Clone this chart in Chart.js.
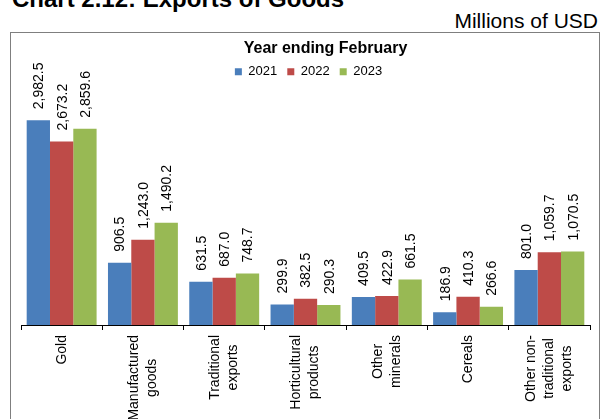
<!DOCTYPE html>
<html>
<head>
<meta charset="utf-8">
<script src="https://cdn.jsdelivr.net/npm/chart.js@4.4.1/dist/chart.umd.min.js"></script>
<style>
    body {
        margin: 0;
        width: 602px;
        height: 419px;
        overflow: hidden;
        background: #fff;
        font-family: 'Liberation Sans', Arial, sans-serif;
        position: relative;
    }
    #heading {
        position: absolute;
        left: 12px;
        top: -13px;
        font-size: 24px;
        line-height: 24px;
        font-weight: bold;
        white-space: nowrap;
    }
    #units {
        position: absolute;
        right: 4px;
        top: 10px;
        font-size: 21px;
        line-height: 21px;
        white-space: nowrap;
    }
    #frame {
        position: absolute;
        left: 10px;
        top: 32px;
        width: 588px;
        height: 420px;
        border: 1px solid #7f7f7f;
    }
</style>
</head>
<body>
<div id="heading">Chart 2.12: Exports of Goods</div>
<div id="units">Millions of USD</div>
<div id="frame"><canvas id="exportsChart" width="588" height="420"></canvas></div>

<script>
const categories = [
    ['Gold'],
    ['Manufactured', 'goods'],
    ['Traditional', 'exports'],
    ['Horticultural', 'products'],
    ['Other', 'minerals'],
    ['Cereals'],
    ['Other non-', 'traditional', 'exports']
];
const years = ['2021', '2022', '2023'];
const values2021 = [2982.5, 906.5, 631.5, 299.9, 409.5, 186.9, 801.0];
const values2022 = [2673.2, 1243.0, 687.0, 382.5, 422.9, 410.3, 1059.7];
const values2023 = [2859.6, 1490.2, 748.7, 290.3, 661.5, 266.6, 1070.5];

const FONT = "'Liberation Sans', Arial, sans-serif";
Chart.defaults.font.family = FONT;
Chart.defaults.color = '#000';

// numbers above each bar, written bottom-to-top
const barValueLabels = {
    id: 'barValueLabels',
    afterDatasetsDraw(chart) {
        const ctx = chart.ctx;
        ctx.save();
        ctx.font = '14px ' + FONT;
        ctx.fillStyle = '#000';
        ctx.textAlign = 'left';
        ctx.textBaseline = 'middle';
        chart.data.datasets.forEach((ds, i) => {
            chart.getDatasetMeta(i).data.forEach((bar, j) => {
                const text = ds.data[j].toLocaleString('en-US', {minimumFractionDigits: 1, maximumFractionDigits: 1});
                ctx.save();
                ctx.translate(bar.x, bar.y - 11);
                ctx.rotate(-Math.PI / 2);
                ctx.fillText(text, 0, 1);
                ctx.restore();
            });
        });
        ctx.restore();
    }
};

// category names under the axis, rotated, lines centred on each other
const categoryLabels = {
    id: 'categoryLabels',
    afterDraw(chart) {
        const ctx = chart.ctx;
        const xScale = chart.scales.x;
        const top = chart.chartArea.bottom + 10;
        const lineHeight = 18;
        ctx.save();
        ctx.font = '14px ' + FONT;
        ctx.fillStyle = '#000';
        ctx.textAlign = 'center';
        ctx.textBaseline = 'middle';
        categories.forEach((lines, i) => {
            const x = xScale.getPixelForValue(i);
            const longest = Math.max(...lines.map(l => ctx.measureText(l).width));
            lines.forEach((line, k) => {
                const offset = (k - (lines.length - 1) / 2) * lineHeight;
                ctx.save();
                ctx.translate(x + offset, top + longest / 2);
                ctx.rotate(-Math.PI / 2);
                ctx.fillText(line, 0, 0);
                ctx.restore();
            });
        });
        ctx.restore();
    }
};

// nudge the title and legend to the right
const headerShift = {
    id: 'headerShift',
    afterLayout(chart) {
        chart.titleBlock.left += 20;
        chart.titleBlock.right += 20;
        chart.legend.left += 3;
        chart.legend.right += 3;
    }
};

const ctx = document.getElementById('exportsChart').getContext('2d');
new Chart(ctx, {
    type: 'bar',
    data: {
        labels: categories,
        datasets: [
            {
                label: years[0],
                data: values2021,
                backgroundColor: '#4a7ebb'
            },
            {
                label: years[1],
                data: values2022,
                backgroundColor: '#be4b48'
            },
            {
                label: years[2],
                data: values2023,
                backgroundColor: '#98b954'
            }
        ]
    },
    options: {
        responsive: false,
        animation: false,
        layout: {
            padding: {left: 10, right: 9, top: 0, bottom: 0}
        },
        datasets: {
            bar: {
                categoryPercentage: 0.86,
                barPercentage: 1
            }
        },
        scales: {
            x: {
                grid: {
                    offset: true,
                    drawOnChartArea: false,
                    tickLength: 5,
                    color: '#000'
                },
                border: {
                    color: '#000'
                },
                ticks: {
                    display: false
                },
                afterFit(scale) {
                    scale.height = 128;
                }
            },
            y: {
                display: false,
                min: 0,
                max: 3450
            }
        },
        plugins: {
            title: {
                display: true,
                text: 'Year ending February',
                font: {
                    size: 16,
                    weight: 'bold'
                },
                padding: {top: 6, bottom: -3}
            },
            legend: {
                position: 'top',
                labels: {
                    boxWidth: 7,
                    boxHeight: 7,
                    padding: 10,
                    font: {
                        size: 13,
                        lineHeight: 1
                    }
                }
            },
            tooltip: {
                enabled: false
            }
        }
    },
    plugins: [barValueLabels, categoryLabels, headerShift]
});
</script>
</body>
</html>
